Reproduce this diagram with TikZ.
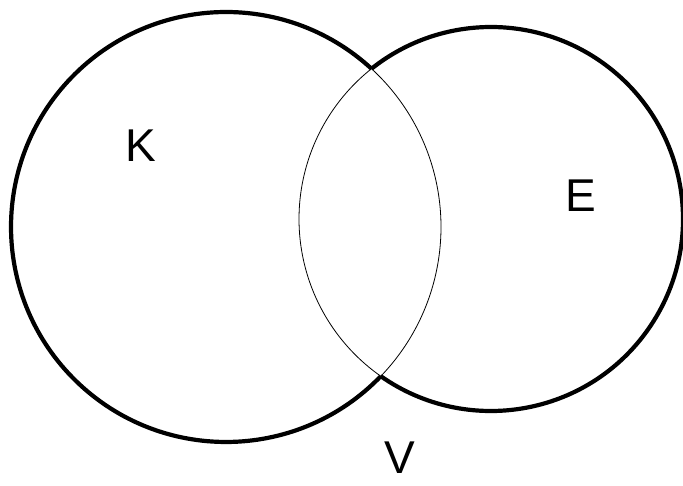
\documentclass[tikz,border=0pt]{standalone}
\usepackage{fontspec}
\setmainfont{Liberation Sans}
\begin{document}
\begin{tikzpicture}[x=1pt,y=1pt,
  outerarc/.style={line width=4.2pt},
  innerarc/.style={line width=0.8pt},
  setlabel/.style={font=\fontsize{46}{46}\selectfont, inner sep=0pt}]
\useasboundingbox (0,0) rectangle (683,486);
\coordinate (c1) at (226,259);
\coordinate (c2) at (491,267);
% thin inner arcs
\draw[innerarc] (c1) ++(-44:215) arc[start angle=-44, end angle=47.4, radius=215];
\draw[innerarc] (c2) ++(128.5:192) arc[start angle=128.5, end angle=234.9, radius=192];
% thick outer arcs
\draw[outerarc] (c1) ++(47.4:215) arc[start angle=47.4, end angle=316, radius=215];
\draw[outerarc] (c2) ++(-125.1:192) arc[start angle=-125.1, end angle=128.5, radius=192];
% labels
\node[setlabel] (K) at (141,340) {K};
\node[setlabel] (E) at (581,290) {E};
\node[setlabel, anchor=base] (V) at (400,12) {V};
\end{tikzpicture}
\end{document}
